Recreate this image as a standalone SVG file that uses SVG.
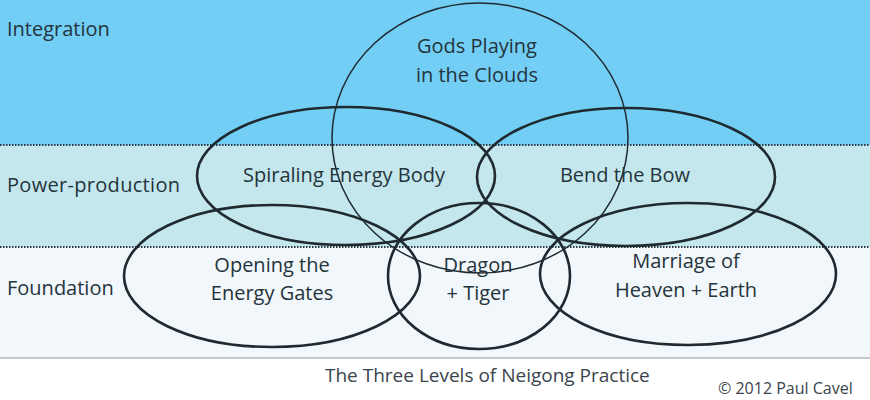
<svg xmlns="http://www.w3.org/2000/svg" width="870" height="400" viewBox="0 0 870 400">
<style>
.t{font-family:"Open Sans","DejaVu Sans",sans-serif;fill:#25343c;font-size:20px}
.c{text-anchor:middle}
.e{fill:none;stroke:#1f2a30;stroke-width:2.6}
.thin{fill:none;stroke:#1f2a30;stroke-width:1.5}
.dot{stroke:#2a3a44;stroke-width:2;stroke-dasharray:1.5 1.5;fill:none}
</style>
<rect width="870" height="400" fill="#ffffff"/>
<g id="bands">
<rect x="0" y="0" width="870" height="145" fill="#72cef5"/>
<rect x="0" y="145" width="870" height="102" fill="#c4e7ed"/>
<rect x="0" y="247" width="870" height="110" fill="#f1f7fa"/>
<rect x="0" y="357" width="870" height="2" fill="#c3c8ca"/>
<line class="dot" x1="0" y1="145" x2="870" y2="145"/>
<line class="dot" x1="0" y1="247" x2="870" y2="247"/>
<text class="t" x="7" y="36">Integration</text>
<text class="t" x="7" y="192" textLength="173">Power-production</text>
<text class="t" x="7" y="295">Foundation</text>
</g>
<g id="gods"><ellipse class="thin" cx="480" cy="138" rx="148" ry="135"/>
<text class="t c" x="477" y="53">Gods Playing</text><text class="t c" x="477" y="82">in the Clouds</text></g>
<g id="spiraling"><ellipse class="e" cx="346" cy="176" rx="149" ry="69"/>
<text class="t c" x="344" y="182">Spiraling Energy Body</text></g>
<g id="bend"><ellipse class="e" cx="626" cy="177" rx="149" ry="69"/>
<text class="t c" x="625" y="182">Bend the Bow</text></g>
<g id="opening"><ellipse class="e" cx="272" cy="276" rx="148" ry="71"/>
<text class="t c" x="272" y="272">Opening the</text><text class="t c" x="272" y="300">Energy Gates</text></g>
<g id="dragon"><ellipse class="e" cx="479" cy="276" rx="91" ry="73"/>
<text class="t c" x="478" y="272">Dragon</text><text class="t c" x="478" y="300">+ Tiger</text></g>
<g id="marriage"><ellipse class="e" cx="688" cy="274" rx="148" ry="71"/>
<text class="t c" x="686" y="268">Marriage of</text><text class="t c" x="686" y="297">Heaven + Earth</text></g>
<g id="connectors"></g>
<text class="t" x="325" y="382" style="font-size:19px;fill:#3a444c">The Three Levels of Neigong Practice</text>
<text class="t" x="718" y="394" style="font-size:16px;fill:#3a444c">© 2012 Paul Cavel</text>
</svg>
